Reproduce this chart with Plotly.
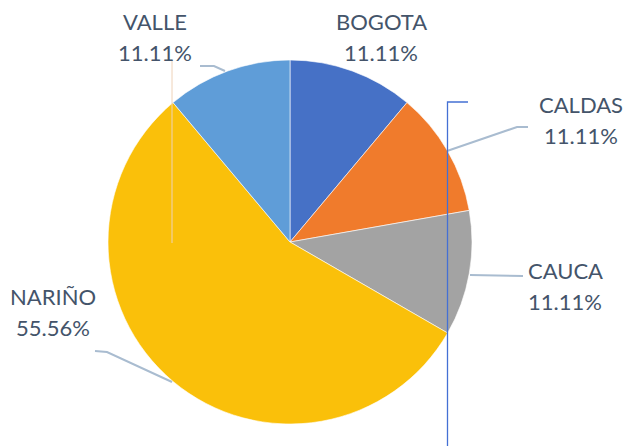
import plotly.graph_objects as go

labels = ["BOGOTA", "CALDAS", "CAUCA", "NARIÑO", "VALLE"]
values = [1, 1, 1, 5, 1]
colors = ["#4671C6", "#F07B2C", "#A3A3A3", "#FAC00A", "#5F9DD8"]

W, H = 624, 446

# label placement (pixel centers of first/second line)
label_pos = {
    "BOGOTA": (381, 21, 52),
    "CALDAS": (581, 104, 135),
    "CAUCA": (565, 270, 301),
    "NARIÑO": (53, 296, 327),
    "VALLE": (155, 21, 52),
}

def px(x):
    return x / W

def py(y):
    return 1 - y / H

total = sum(values)
pcts = [v / total * 100 for v in values]

fig = go.Figure(go.Pie(
    labels=labels,
    values=values,
    sort=False,
    direction="clockwise",
    rotation=0,
    marker=dict(colors=colors, line=dict(color="white", width=0.6)),
    textinfo="none",
    hoverinfo="label+percent",
    domain=dict(x=[108 / W, 472 / W], y=[22 / H, 386 / H]),
    showlegend=False,
))

font = dict(family="Lato, Calibri, sans-serif", size=22, color="#44546A")
annotations = []
for lab, p in zip(labels, pcts):
    cx, y1, y2 = label_pos[lab]
    annotations.append(dict(x=px(cx), y=py(y1), xref="paper", yref="paper",
                            text=lab, showarrow=False, font=font,
                            xanchor="center", yanchor="middle"))
    annotations.append(dict(x=px(cx), y=py(y2), xref="paper", yref="paper",
                            text=f"{p:.2f}%", showarrow=False, font=font,
                            xanchor="center", yanchor="middle"))

leader = dict(color="#A9BCD0", width=2)
shapes = []
def seg(pts, line):
    path = "M " + " L ".join(f"{px(x)},{py(y)}" for x, y in pts)
    shapes.append(dict(type="path", path=path, xref="paper", yref="paper", line=line))

seg([(200, 66), (214, 66), (225, 71)], leader)
seg([(447, 151), (517, 127), (528, 127)], leader)
seg([(470, 275), (523, 276)], leader)
seg([(95, 351), (107, 352), (172, 382)], leader)
# artefact lines seen in the reference
seg([(172, 60), (172, 243)], dict(color="#EED2B8", width=1))
seg([(468, 102), (447.5, 102), (447.5, 446)], dict(color="#4470D4", width=1.3))

fig.update_layout(
    width=W, height=H,
    margin=dict(l=0, r=0, t=0, b=0),
    paper_bgcolor="white",
    plot_bgcolor="white",
    annotations=annotations,
    shapes=shapes,
)

fig.write_html(
    "out.html",
    config={"displayModeBar": False},
    post_script="document.body.style.margin='0';document.body.style.overflow='hidden';",
)
